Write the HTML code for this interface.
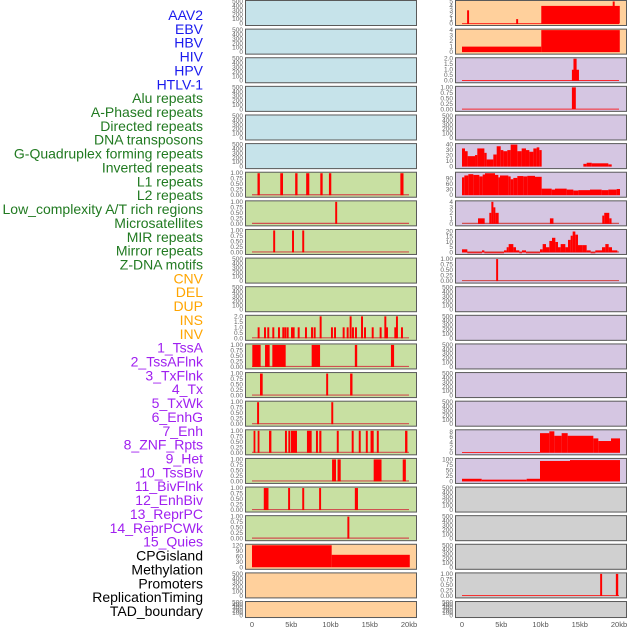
<!DOCTYPE html>
<html><head><meta charset="utf-8">
<style>
body{margin:0;background:#fff;width:630px;height:630px;overflow:hidden;font-family:"Liberation Sans",sans-serif}
svg{display:block}
</style></head>
<body>
<svg id="chart" width="630" height="630"></svg>
<script>
// ---- labels ----
const trackLabels = ["AAV2","EBV","HBV","HIV","HPV","HTLV-1","Alu repeats","A-Phased repeats","Directed repeats","DNA transposons","G-Quadruplex forming repeats","Inverted repeats","L1 repeats","L2 repeats","Low_complexity A/T rich regions","Microsatellites","MIR repeats","Mirror repeats","Z-DNA motifs","CNV","DEL","DUP","INS","INV","1_TssA","2_TssAFlnk","3_TxFlnk","4_Tx","5_TxWk","6_EnhG","7_Enh","8_ZNF_Rpts","9_Het","10_TssBiv","11_BivFlnk","12_EnhBiv","13_ReprPC","14_ReprPCWk","15_Quies","CPGisland","Methylation","Promoters","ReplicationTiming","TAD_boundary"];
const labelGroups = [6,13,5,15,5];
const groupColors = ["#1a1aee","#217a21","#ffa500","#a020f0","#000000"];
// ---- x axis ----
const xTickValues = [0,5,10,15,20];
const xTickLabels = ["0","5kb","10kb","15kb","20kb"];
// ---- y tick sets ----
const ticks500 = ["0","100","200","300","400","500"];
const ticks1 = ["0.00","0.25","0.50","0.75","1.00"];
const ticks2 = ["0.0","0.5","1.0","1.5","2.0"];
const ticks5 = ["0","1","2","3","4","5"];
const ticks4 = ["0","1","2","3","4"];
const ticks40 = ["0","10","20","30","40"];
const ticks90 = ["0","30","60","90"];
const ticks20 = ["0","5","10","15","20"];
const ticks8 = ["0","2","4","6","8"];
const ticks100 = ["0","25","50","75","100"];
const ticks120 = ["0","30","60","90","120"];
// ---- data: [startKb, endKb, value] ----
const L1sites = [[0.7,1.0,1],[3.6,3.95,1],[5.5,5.8,1],[6.9,7.3,1],[8.7,9.0,1],[9.8,10.1,1],[18.9,19.3,1]];
const L2sites = [[10.6,10.85,1]];
const lowCompSites = [[2.7,2.95,1],[5.1,5.35,1],[6.4,6.65,1]];
const insStarts = [0.72,1.53,1.95,2.59,3.31,3.86,4.12,4.42,4.97,5.18,5.82,6.75,7.52,7.86,8.62,10.06,10.45,11.55,12.06,12.44,12.74,13.12,13.89,14.27,15.25,16.26,16.86,17.07,18.13,18.34,18.98];
const insValues = [1,1,1,1,1,1,1,1,1,1,1,1,1,1,2,1,1,1,1,2,1,1,2,1,1,1,2,1,1,2,1];
const tssA = [[0.04,1.1,1],[1.66,2.25,1],[2.59,4.29,1],[7.6,8.67,1],[13.1,13.4,1],[17.7,18.1,1]];
const tssAFlnk = [[1.02,1.36,1],[9.45,9.7,1],[12.5,12.8,1]];
const txFlnk = [[0.65,0.9,1],[10.1,10.35,1]];
const txStarts = [0.2,0.72,2.17,4.2,4.63,4.97,7.0,8.15,8.57,10.8,12.7,13.6,14.5,15.1,15.9,19.5];
const txEnds = [0.42,0.95,2.47,4.45,4.88,5.73,7.6,8.4,8.84,11.05,12.95,13.85,14.75,15.5,16.15,19.8];
const txWk = [[10.2,10.7,1],[10.9,11.3,1],[15.5,16.5,1],[19.2,19.6,1]];
const enhG = [[1.5,2.1,1],[4.6,4.85,1],[6.4,6.65,1],[8.55,8.8,1],[13.1,13.5,1]];
const enh = [[12.15,12.4,1]];
const cpg = [[0,10.15,120],[10.15,20.1,68]];
const aav2 = [[0,20,0.05],[0.65,0.9,3],[6.9,7.15,1],[10.1,20.1,4],[19.2,19.45,5]];
const ebv = [[0,10.1,1],[10.1,20.1,4]];
const hiv = [[0,20,0.05],[14.0,14.9,1],[14.2,14.6,2]];
const hpv = [[0,20,0.03],[14.0,14.5,1]];
const gquadStarts = [0,0.38,0.72,1.66,1.95,2.85,3.14,3.99,4.42,4.93,5.27,5.77,6.2,7.05,7.6,8.15,8.58,9.09,9.51,9.85,15.46,15.88,16.52,18.64];
const gquadEnds = [0.38,0.72,1.66,1.95,2.85,3.14,3.99,4.42,4.93,5.27,5.77,6.2,7.05,7.6,8.15,8.58,9.09,9.51,9.85,10.15,15.88,16.52,18.64,19.07];
const gquadValues = [33,28,19,21,33,25,13,22,37,30,28,30,40,28,33,30,27,33,35,30,5,7,6,4];
const invZ = [126,133,145,160,178,188,195,225,235,240,265,272,280,292,310,322,345,365,395,405,440,460,475,510,545,565,590,600];
const invValues = [95,105,112,108,100,110,117,108,95,105,100,85,92,102,100,103,98,35,30,35,30,25,27,30,27,30,33];
const l1Right = [[2.04,2.89,1],[3.48,3.74,2],[3.74,4.0,4],[4.0,4.25,3],[4.25,4.67,2],[11.2,11.65,1],[17.87,18.12,1.5],[18.12,18.76,2],[18.76,19.05,1]];
const mirZ = [126,142,186,193,252,260,266,280,288,298,306,318,360,368,378,388,396,406,414,422,436,444,452,458,466,474,488,500,512,526,546,556,566,576,592];
const mirValues = [3,0,2,0,2,5,8,5,2,0,2,0,3,8,5,11,14,10,5,8,5,12,16,20,17,7,7,2,0,2,5,8,5,2];
const lowCompRight = [[4.35,4.6,1]];
const enhRightZ = [126,360,388,403,425,443,520,535,573,600];
const enhRightValues = [0.3,7.5,8.2,6.5,7.5,6.5,5.5,4.5,5.5];
const hetRightZ = [126,185,320,360,450,600];
const hetRightValues = [12,8,12,93,97];
const promoterRight = [[0,20,0.03],[17.6,17.85,1],[19.6,19.9,1]];

function zToSegs(z, vals){const s=[];for(let i=0;i<vals.length;i++){s.push([(z[i]-126)/23.55,(z[i+1]-126)/23.55,vals[i]]);}return s;}
function seSegs(st,en,vals){return st.map((a,i)=>[a,en[i],vals[i]]);}
function siteSegs(st,vals,w){return st.map((a,i)=>[a,a+w,vals[i]]);}

const BLUE="#c6e3ea",GREEN="#c8e0a2",ORANGE="#ffd09c",PURPLE="#d5c6e2",GREY="#d0d0d0";
const leftBg=[BLUE,BLUE,BLUE,BLUE,BLUE,BLUE,GREEN,GREEN,GREEN,GREEN,GREEN,GREEN,GREEN,GREEN,GREEN,GREEN,GREEN,GREEN,GREEN,ORANGE,ORANGE,ORANGE];
const rightBg=[ORANGE,ORANGE,PURPLE,PURPLE,PURPLE,PURPLE,PURPLE,PURPLE,PURPLE,PURPLE,PURPLE,PURPLE,PURPLE,PURPLE,PURPLE,PURPLE,PURPLE,GREY,GREY,GREY,GREY,GREY];
const withBase=(s)=>[[0,20,0.03*0]].concat(s);
const leftPanels=[
 [ticks500,500,[],false],[ticks500,500,[],false],[ticks500,500,[],false],[ticks500,500,[],false],[ticks500,500,[],false],[ticks500,500,[],false],
 [ticks1,1,L1sites,true],[ticks1,1,L2sites,true],[ticks1,1,lowCompSites,true],[ticks500,500,[],false],[ticks500,500,[],false],
 [ticks2,2,siteSegs(insStarts,insValues,0.25),true],[ticks1,1,tssA,true],[ticks1,1,tssAFlnk,true],[ticks1,1,txFlnk,true],
 [ticks1,1,seSegs(txStarts,txEnds,txStarts.map(()=>1)),true],[ticks1,1,txWk,true],[ticks1,1,enhG,true],[ticks1,1,enh,true],
 [ticks120,120,cpg,false],[ticks500,500,[],false],[ticks500,500,[],false]];
const rightPanels=[
 [ticks5,5,aav2,false],[ticks4,4,ebv,false],[ticks2,2,hiv,false],[ticks1,1,hpv,false],[ticks500,500,[],false],
 [ticks40,40,seSegs(gquadStarts,gquadEnds,gquadValues),false],[ticks90,117,zToSegs(invZ,invValues),false],
 [ticks4,4,l1Right,true],[ticks20,21,zToSegs(mirZ,mirValues),true],[ticks1,1,lowCompRight,true],
 [ticks500,500,[],false],[ticks500,500,[],false],[ticks500,500,[],false],[ticks500,500,[],false],[ticks500,500,[],false],
 [ticks8,8.4,zToSegs(enhRightZ,enhRightValues),false],[ticks100,100,zToSegs(hetRightZ,hetRightValues),false],
 [ticks500,500,[],false],[ticks500,500,[],false],[ticks500,500,[],false],[ticks1,1,promoterRight,false],[ticks500,500,[],false]];

const svg=document.getElementById('chart');
const NS="http://www.w3.org/2000/svg";
function mk(tag,attrs,parent){const e=document.createElementNS(NS,tag);for(const k in attrs)e.setAttribute(k,attrs[k]);(parent||svg).appendChild(e);return e;}

// labels
let li=0;
labelGroups.forEach((n,g)=>{for(let k=0;k<n;k++){
  const t=mk('text',{x:203,y:15+li*13.86+5,'text-anchor':'end','font-size':'14',fill:groupColors[g]});
  t.textContent=trackLabels[li];
  
  
  li++;}});

const ROWSTEP=28.62, PW=171;
function drawPanel(col,row,bg,p){
  const x0=col===0?245:455;
  const top=row*ROWSTEP, h=row===21?16:25;
  const xs=kb=>x0+7+kb*7.85;
  const [tk,ymax,segs,base]=p;
  const ys=v=>top+h-1.5-(v/ymax)*(h-3);
  const g=mk('g',{});
  
  
  mk('rect',{x:x0+1,y:top+1,width:PW,height:h,fill:'#aaa',opacity:0.5},g);
  mk('rect',{x:x0+0.5,y:top+0.5,width:PW,height:h,fill:bg,stroke:'#5a5a5a','stroke-width':1},g);
  if(base){const b=mk('line',{x1:xs(0),x2:xs(20),y1:ys(0)-0.5,y2:ys(0)-0.5,stroke:'#d05050','stroke-width':1.2},g);
    }
  segs.forEach(s=>{
    const xa=xs(s[0]), w=Math.max(xs(s[1])-xa,1.8);
    const y=Math.max(ys(s[2]),top+0.5);
    const r=mk('rect',{x:xa,y:y,width:w,height:Math.max(ys(0)-y,0.8),fill:'#ff0000'},g);
    
    
  });
  tk.forEach((lab,i)=>{
    const v=ymax*(i/(tk.length-1))*(parseFloat(tk[tk.length-1])/ymax);
    const t=mk('text',{x:x0-2,y:ys(parseFloat(lab))+2,'text-anchor':'end','font-size':'6.5',fill:'#666'},g);
    t.textContent=lab;
    
    
  });
  if(row===21){xTickValues.forEach((v,i)=>{
    const t=mk('text',{x:xs(v),y:627,'text-anchor':'middle','font-size':'7.5',fill:'#555'});
    t.textContent=xTickLabels[i];
    
    
  });}
}
leftPanels.forEach((p,r)=>drawPanel(0,r,leftBg[r],p));
rightPanels.forEach((p,r)=>drawPanel(1,r,rightBg[r],p));
</script>
</body></html>
